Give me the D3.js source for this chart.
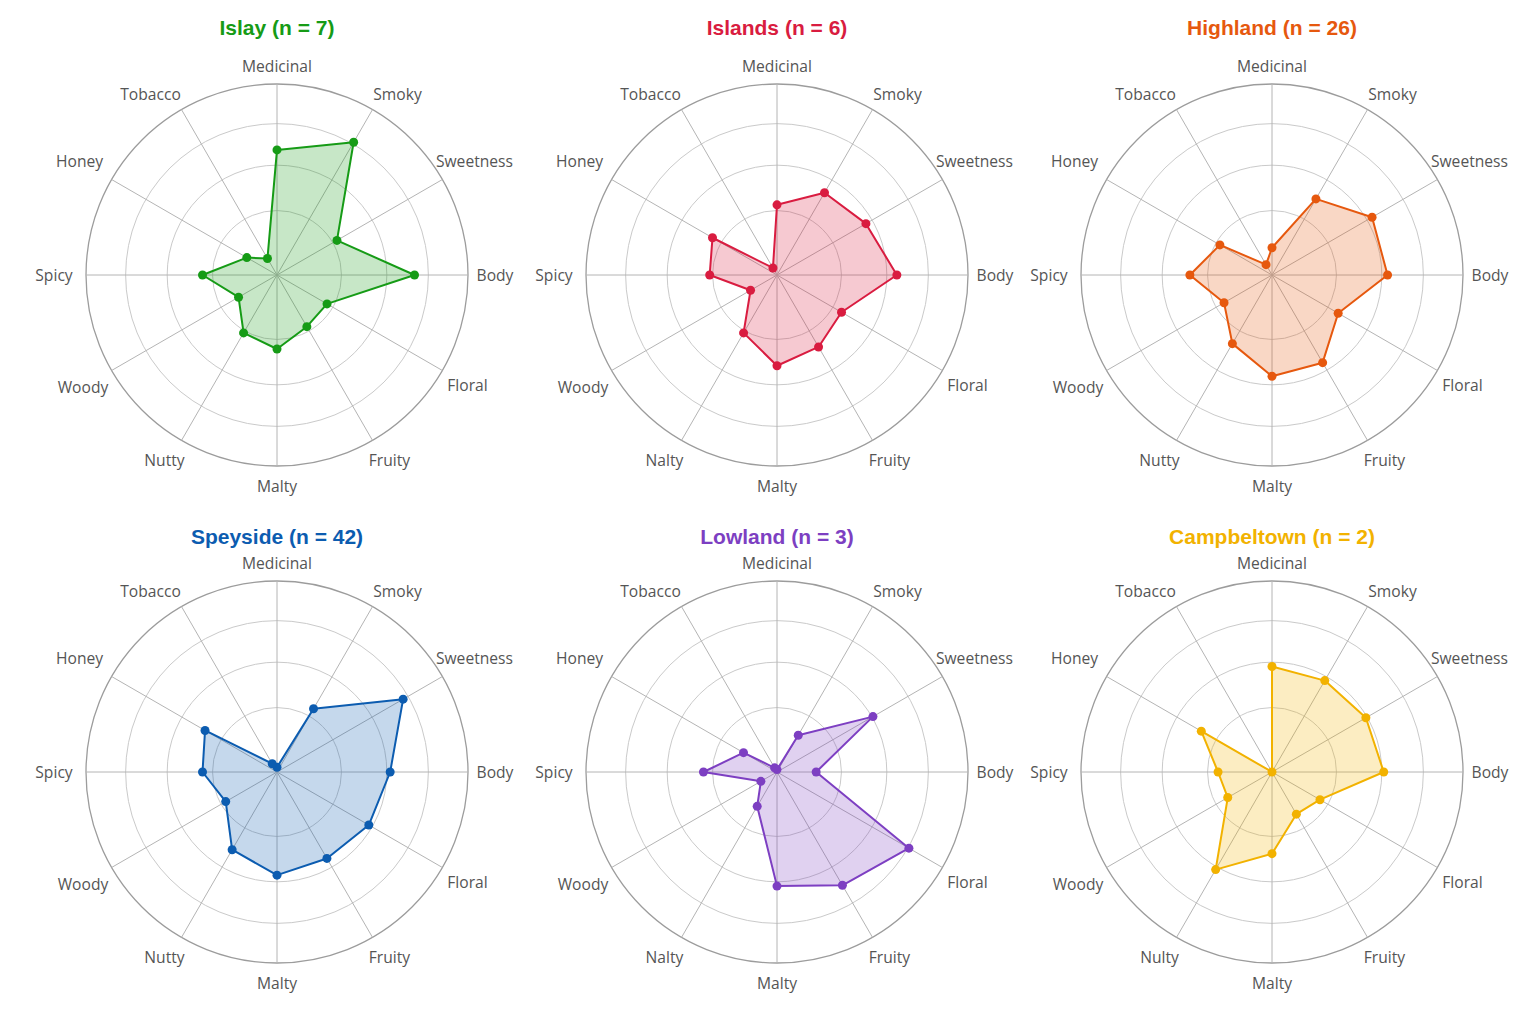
<!DOCTYPE html>
<html>
<head>
<meta charset="utf-8">
<script src="https://cdn.jsdelivr.net/npm/d3@7"></script>
<style>
  body { margin: 0; background: #fff; }
  .axis-label { font-family: "Open Sans", "Noto Sans", sans-serif; font-size: 17px; fill: #555; }
  .panel-title { font-family: "Liberation Sans", Arial, sans-serif; font-size: 21px; font-weight: bold; }
</style>
</head>
<body>
<svg id="chart" width="1526" height="1031"></svg>
<script>
// flavour axes, clockwise from the top
const axes = ['Medicinal', 'Smoky', 'Sweetness', 'Body', 'Floral', 'Fruity',
              'Malty', 'Nutty', 'Woody', 'Spicy', 'Honey', 'Tobacco'];

const regions = ['Islay', 'Islands', 'Highland', 'Speyside', 'Lowland', 'Campbeltown'];
const counts = [7, 6, 26, 42, 3, 2];
const colors = ['#169b16', '#d91c40', '#e6580e', '#0c5cb0', '#7d3fc2', '#f2b200'];

// mean score per axis (0-4), same order as `axes`
const islay       = [2.62, 3.21, 1.45, 2.88, 1.21, 1.25, 1.55, 1.40, 0.93, 1.56, 0.73, 0.40];
const islands     = [1.47, 1.99, 2.15, 2.51, 1.56, 1.74, 1.90, 1.40, 0.64, 1.41, 1.56, 0.17];
const highland    = [0.57, 1.84, 2.42, 2.42, 1.60, 2.12, 2.12, 1.66, 1.16, 1.72, 1.26, 0.25];
const speyside    = [0.10, 1.53, 3.05, 2.37, 2.22, 2.09, 2.16, 1.88, 1.24, 1.56, 1.74, 0.20];
const lowland     = [0.05, 0.89, 2.32, 0.82, 3.19, 2.74, 2.39, 0.83, 0.39, 1.54, 0.81, 0.10];
const campbeltown = [2.21, 2.21, 2.27, 2.34, 1.16, 1.02, 1.71, 2.36, 1.07, 1.13, 1.71, 0.00];
const series = [islay, islands, highland, speyside, lowland, campbeltown];

// grid circles (score levels as printed)
const ringLevels = [1.35, 2.3, 3.17, 4];
const maxScore = 4;

// axis labels as spelled on the original panels
const labelTypos = {
  Islands: { Nutty: 'Nalty' },
  Lowland: { Nutty: 'Nalty' },
  Campbeltown: { Nutty: 'Nulty' }
};

// layout
const R = 191;
const colX = [277, 777, 1272];
const rowY = [275, 772];
const titleY = [27, 536];
// label distance from centre, and a sideways nudge for the diagonal labels
const labelDist = [209, 209, 228, 218, 220, 213, 211, 213, 224, 223, 228, 209];
const labelNudge = [0, 16, 0, 0, 0, 6, 0, -6, 0, 0, 0, -22];
const LABEL_SQUEEZE = 0.92;

const svg = d3.select('#chart');

const rScale = d3.scaleLinear().domain([0, maxScore]).range([0, R]);
const aScale = d3.scaleLinear().domain([0, axes.length]).range([0, 2 * Math.PI]);

const line = d3.lineRadial()
  .angle((d, i) => aScale(i))
  .radius(d => rScale(d))
  .curve(d3.curveLinearClosed);

regions.forEach((region, k) => {
  const cx = colX[k % 3], cy = rowY[Math.floor(k / 3)];
  const color = colors[k];
  const g = svg.append('g').attr('transform', `translate(${cx},${cy})`);

  // rings
  g.selectAll('circle.ring')
    .data(ringLevels)
    .join('circle')
    .attr('class', 'ring')
    .attr('r', d => rScale(d))
    .attr('fill', 'none')
    .attr('stroke', d => d === maxScore ? '#9c9c9c' : '#cacaca')
    .attr('stroke-width', d => d === maxScore ? 1.3 : 1);

  // spokes
  g.selectAll('line.spoke')
    .data(axes)
    .join('line')
    .attr('class', 'spoke')
    .attr('x1', 0).attr('y1', 0)
    .attr('x2', (d, i) => d3.pointRadial(aScale(i), R)[0])
    .attr('y2', (d, i) => d3.pointRadial(aScale(i), R)[1])
    .attr('stroke', '#b4b4b4')
    .attr('stroke-width', 1);

  // axis labels (slightly narrowed to match the condensed face of the original)
  const typos = labelTypos[region] || {};
  g.selectAll('text.axis-label')
    .data(axes)
    .join('text')
    .attr('class', 'axis-label')
    .attr('transform', (d, i) => {
      const [x, y] = d3.pointRadial(aScale(i), labelDist[i]);
      return `translate(${x + labelNudge[i]},${y}) scale(${LABEL_SQUEEZE},1)`;
    })
    .attr('text-anchor', 'middle')
    .attr('dominant-baseline', 'central')
    .text(d => typos[d] || d);

  // profile
  const values = series[k];
  g.append('path')
    .attr('d', line(values))
    .attr('fill', color)
    .attr('fill-opacity', 0.24)
    .attr('stroke', color)
    .attr('stroke-width', 2)
    .attr('stroke-linejoin', 'round');

  g.selectAll('circle.pt')
    .data(values)
    .join('circle')
    .attr('class', 'pt')
    .attr('cx', (d, i) => d3.pointRadial(aScale(i), rScale(d))[0])
    .attr('cy', (d, i) => d3.pointRadial(aScale(i), rScale(d))[1])
    .attr('r', 4.5)
    .attr('fill', color);

  svg.append('text')
    .attr('class', 'panel-title')
    .attr('x', cx)
    .attr('y', titleY[Math.floor(k / 3)])
    .attr('text-anchor', 'middle')
    .attr('dominant-baseline', 'central')
    .attr('fill', color)
    .text(`${region} (n = ${counts[k]})`);
});
</script>
</body>
</html>
